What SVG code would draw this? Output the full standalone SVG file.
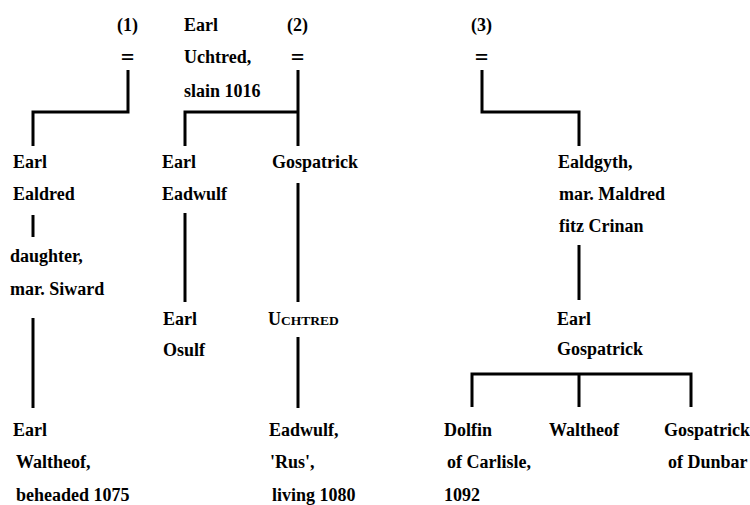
<svg xmlns="http://www.w3.org/2000/svg" width="750" height="505" viewBox="0 0 750 505">
<style>
text,tspan{font-family:'Liberation Serif','DejaVu Serif',serif;font-weight:bold;font-size:18px;fill:#000}
.c{text-anchor:middle}
tspan.eq{font-size:24px}
tspan.sc{font-size:13.5px}
#connectors path{fill:none;stroke:#000;stroke-width:3;stroke-linecap:butt}
</style>
<rect width="750" height="505" fill="#fff"/>
<g id="connectors">
<path d="M128,70V112H33V146"/>
<path d="M298,70V146M298,112H185V146"/>
<path d="M482,70V112H579V146"/>
<path d="M33,215V237"/>
<path d="M33,318V408"/>
<path d="M185,213V302"/>
<path d="M298,183V302"/>
<path d="M298,337V408"/>
<path d="M579,245V300"/>
<path d="M472,407V374H691V407M579,374V407"/>
</g>
<g id="m1"><text class="c" x="127.5" y="31"><tspan>(1)</tspan></text><text class="c" x="127.5" y="65"><tspan class="eq">=</tspan></text></g>
<g id="m2"><text class="c" x="297.5" y="31"><tspan>(2)</tspan></text><text class="c" x="297.5" y="65"><tspan class="eq">=</tspan></text></g>
<g id="m3"><text class="c" x="481.5" y="31"><tspan>(3)</tspan></text><text class="c" x="481.5" y="65"><tspan class="eq">=</tspan></text></g>
<g id="uchtred"><text x="184" y="31"><tspan>Earl</tspan></text><text x="184" y="63"><tspan>Uchtred,</tspan></text><text x="184" y="97"><tspan>slain 1016</tspan></text></g>
<g id="ealdred"><text x="13" y="168"><tspan>Earl</tspan></text><text x="13" y="200"><tspan>Ealdred</tspan></text></g>
<g id="daughter"><text x="10" y="262"><tspan>daughter,</tspan></text><text x="10" y="295"><tspan>mar. Siward</tspan></text></g>
<g id="waltheof1"><text x="13" y="436"><tspan>Earl</tspan></text><text x="16" y="468"><tspan>Waltheof,</tspan></text><text x="16" y="501"><tspan>beheaded 1075</tspan></text></g>
<g id="eadwulf1"><text x="162" y="168"><tspan>Earl</tspan></text><text x="162" y="200"><tspan>Eadwulf</tspan></text></g>
<g id="osulf"><text x="163" y="325"><tspan>Earl</tspan></text><text x="163" y="356"><tspan>Osulf</tspan></text></g>
<g id="gospatrick1"><text x="272" y="168"><tspan>Gospatrick</tspan></text></g>
<g id="uchtred2"><text x="268" y="325"><tspan>U</tspan><tspan class="sc">CHTRED</tspan></text></g>
<g id="eadwulf2"><text x="269" y="436"><tspan>Eadwulf,</tspan></text><text x="270" y="468"><tspan>'Rus',</tspan></text><text x="272" y="501"><tspan>living 1080</tspan></text></g>
<g id="ealdgyth"><text x="558" y="168"><tspan>Ealdgyth,</tspan></text><text x="559" y="200"><tspan>mar. Maldred</tspan></text><text x="559" y="232"><tspan>fitz Crinan</tspan></text></g>
<g id="gospatrick2"><text x="557" y="325"><tspan>Earl</tspan></text><text x="557" y="355"><tspan>Gospatrick</tspan></text></g>
<g id="dolfin"><text x="444" y="436"><tspan>Dolfin</tspan></text><text x="447" y="468"><tspan>of Carlisle,</tspan></text><text x="444" y="501"><tspan>1092</tspan></text></g>
<g id="waltheof2"><text x="549" y="436"><tspan>Waltheof</tspan></text></g>
<g id="gospatrick3"><text x="664" y="436"><tspan>Gospatrick</tspan></text><text x="668" y="468"><tspan>of Dunbar</tspan></text></g>
</svg>
